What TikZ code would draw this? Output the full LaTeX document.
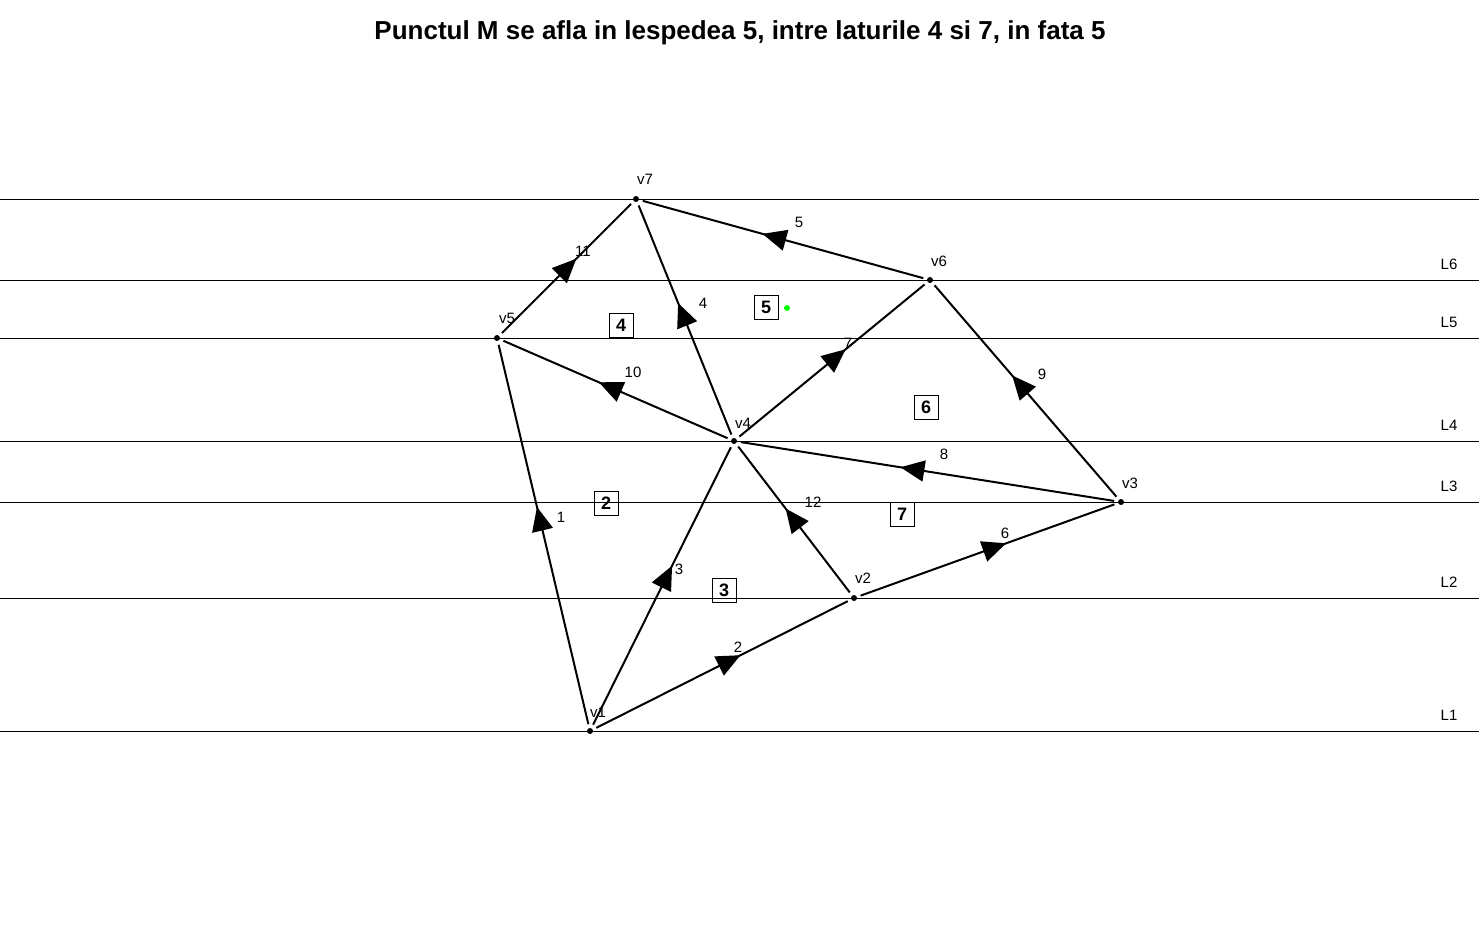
\documentclass[tikz,border=0pt]{standalone}
\usepackage{fontspec}
\setmainfont{Liberation Sans}
\usetikzlibrary{arrows.meta,decorations.markings}
\def\titlu{Punctul M se afla in lespedea 5, intre laturile 4 si 7, in fata 5}
\tikzset{
  muchie/.style={line width=2pt,shorten <=7pt,shorten >=7pt,postaction={decorate},
    decoration={markings,mark=at position 0.57 with {\arrow{Triangle[length=24pt,width=21pt]}}}},
  nivel/.style={line width=1pt},
  eticheta/.style={font=\fontsize{15}{15}\selectfont,inner sep=0pt},
  fata/.style={draw,line width=0.9pt,minimum size=24pt,inner sep=0pt,font=\fontsize{18}{18}\selectfont\bfseries}
}
\begin{document}
\begin{tikzpicture}[x=1pt,y=-1pt]
\useasboundingbox (0,0) rectangle (1479,946);
\node (titlu) at (740,33) {\fontsize{26}{30}\selectfont\bfseries\titlu};
% dreptele orizontale
\foreach \y/\l in {731/L1,598/L2,502/L3,441/L4,338/L5,280/L6}
  {\draw[nivel] (0,\y) -- (1479,\y);
   \node[eticheta] (\l) at (1449,\y-16) {\l};}
\draw[nivel] (0,199) -- (1479,199);
% varfuri
\coordinate (v1) at (590,731);
\coordinate (v2) at (854,598);
\coordinate (v3) at (1121,502);
\coordinate (v4) at (734,441);
\coordinate (v5) at (497,338);
\coordinate (v6) at (930,280);
\coordinate (v7) at (636,199);
\foreach \v in {1,...,7} \fill (v\v) circle (3pt);
\node[eticheta] (nv1) at (598,712) {v1};
\node[eticheta] (nv2) at (863,578) {v2};
\node[eticheta] (nv3) at (1130,483) {v3};
\node[eticheta] (nv4) at (743,423) {v4};
\node[eticheta] (nv5) at (507,318) {v5};
\node[eticheta] (nv6) at (939,261) {v6};
\node[eticheta] (nv7) at (645,179) {v7};
% muchii
\foreach \a/\b in {v1/v5,v1/v2,v1/v4,v4/v7,v6/v7,v2/v3,v4/v6,v3/v4,v3/v6,v4/v5,v5/v7,v2/v4}
  \draw[muchie] (\a) -- (\b);
\foreach \n/\x/\y in {1/561/517,2/738/647,3/679/569,4/703/303,5/799/222,6/1005/533,
  7/848/343,8/944/454,9/1042/374,10/633/372,11/583/251,12/813/502}
  \node[eticheta] (m\n) at (\x,\y) {\n};
% fete
\node[fata] (f2) at (606,503) {2};
\node[fata] (f3) at (724,590) {3};
\node[fata] (f4) at (621,325) {4};
\node[fata] (f5) at (766,307) {5};
\node[fata] (f6) at (926,407) {6};
\node[fata] (f7) at (902,514) {7};
\node[circle,fill=green,inner sep=0pt,minimum size=6pt] (M) at (787,308) {};
\end{tikzpicture}
\end{document}
